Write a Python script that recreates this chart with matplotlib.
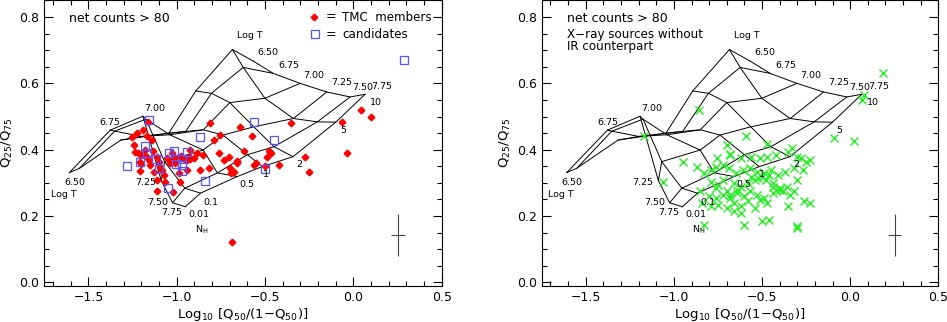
import matplotlib
matplotlib.use("Agg")
import matplotlib.pyplot as plt
import numpy as np

# model grid: rows = NH (1e22 cm^-2), columns = log T
logT = ["6.50", "6.75", "7.00", "7.25", "7.50", "7.75"]
nh = ["0.01", "0.1", "0.5", "1", "2", "5", "10"]
grid_x = [
    [-1.608, -1.377, -1.192, -1.088, -1.024, -0.952],
    [-1.551, -1.352, -1.175, -1.069, -0.955, -0.866],
    [-1.317, -1.200, -1.040, -0.851, -0.770, -0.658],
    [-1.045, -0.950, -0.850, -0.738, -0.600, -0.516],
    [-0.893, -0.804, -0.700, -0.564, -0.450, -0.342],
    [-0.685, -0.624, -0.501, -0.340, -0.204, -0.100],
    [-0.567, -0.454, -0.302, -0.151, -0.019, 0.066],
]
grid_y = [
    [0.331, 0.459, 0.501, 0.307, 0.240, 0.228],
    [0.344, 0.456, 0.492, 0.364, 0.284, 0.269],
    [0.429, 0.440, 0.445, 0.399, 0.330, 0.319],
    [0.450, 0.455, 0.460, 0.444, 0.385, 0.349],
    [0.577, 0.570, 0.542, 0.469, 0.409, 0.379],
    [0.702, 0.648, 0.555, 0.494, 0.484, 0.483],
    [0.667, 0.630, 0.600, 0.574, 0.559, 0.567],
]

# grid labels (text, x, y)
grid_labels = [
    ("Log T", -0.586, 0.743), ("6.50", -0.482, 0.693), ("6.75", -0.365, 0.653),
    ("7.00", -0.223, 0.625), ("7.25", -0.066, 0.603), ("7.50", 0.052, 0.587),
    ("7.75", 0.162, 0.591), ("10", 0.127, 0.541), ("5", -0.059, 0.459),
    ("2", -0.308, 0.354), ("1", -0.498, 0.324), ("0.5", -0.605, 0.296),
    ("0.1", -0.806, 0.242), ("0.01", -0.876, 0.204), ("N$_\\mathregular{H}$", -0.857, 0.158),
    ("7.75", -1.027, 0.212), ("7.50", -1.107, 0.242), ("7.25", -1.175, 0.302),
    ("6.50", -1.576, 0.302), ("Log T", -1.642, 0.266), ("6.75", -1.377, 0.482),
    ("7.00", -1.126, 0.524),
]

# TMC members
mem_x = [-1.163, -1.254, -1.226, -1.192, -1.169, -1.141, -1.245, -1.235, -1.220, -1.207,
         -1.188, -1.169, -1.160, -1.211, -1.201, -1.207, -1.112, -1.103, -1.093, -1.084,
         -1.128, -1.112, -1.112, -1.075, -1.065, -1.023, -1.027, -1.018, -0.999, -1.008,
         -0.989, -0.980, -0.952, -0.933, -0.923, -0.904, -0.885, -0.851, -0.813, -0.791,
         -0.757, -0.762, -0.734, -0.706, -0.696, -0.677, -0.658, -0.643, -0.621, -0.573,
         -0.564, -0.549, -0.488, -0.469, -0.422, -0.352, -0.276, -0.252, -0.062, -0.034,
         0.045, 0.098, -0.685, -0.866, -0.819, -0.942, -0.960, -0.975, -0.945, -0.925,
         -1.040, -1.055, -1.150, -1.135, -0.700, -0.690, -0.660, -0.500, -0.480, -1.180]
mem_y = [0.484, 0.439, 0.449, 0.459, 0.441, 0.429, 0.414, 0.394, 0.389, 0.387,
         0.384, 0.379, 0.369, 0.364, 0.357, 0.337, 0.379, 0.364, 0.349, 0.339,
         0.334, 0.309, 0.276, 0.324, 0.304, 0.271, 0.389, 0.379, 0.374, 0.359,
         0.329, 0.304, 0.374, 0.379, 0.399, 0.374, 0.389, 0.384, 0.479, 0.429,
         0.444, 0.389, 0.369, 0.379, 0.329, 0.334, 0.359, 0.469, 0.397, 0.441,
         0.354, 0.359, 0.379, 0.389, 0.354, 0.479, 0.379, 0.334, 0.484, 0.389,
         0.519, 0.499, 0.123, 0.339, 0.344, 0.339, 0.372, 0.380, 0.368, 0.372,
         0.360, 0.375, 0.355, 0.395, 0.345, 0.335, 0.365, 0.350, 0.395, 0.400]

# candidates
cand_x = [-1.283, -1.160, -1.179, -1.169, -1.207, -1.120, -1.101, -1.050, -1.044, -1.018,
          -1.003, -0.970, -0.970, -0.970, -0.942, -0.866, -0.838, -0.564, -0.450, -0.503, 0.284]
cand_y = [0.352, 0.489, 0.412, 0.389, 0.362, 0.372, 0.341, 0.284, 0.389, 0.397,
          0.357, 0.371, 0.353, 0.337, 0.394, 0.437, 0.306, 0.484, 0.429, 0.341, 0.670]

# X-ray sources without IR counterpart
xr_x = [0.189, 0.076, 0.070, -0.091, 0.023, -0.857, -1.167, -0.590, -0.473, -0.946,
        -0.870, -1.063, -0.700, -0.757, -0.681, -0.680, -0.620, -0.560, -0.510, -0.470,
        -0.420, -0.350, -0.330, -0.300, -0.280, -0.250, -0.230, -0.830, -0.790, -0.760,
        -0.720, -0.690, -0.650, -0.610, -0.570, -0.530, -0.490, -0.450, -0.410, -0.370,
        -0.320, -0.270, -0.790, -0.750, -0.720, -0.660, -0.620, -0.580, -0.540, -0.500,
        -0.460, -0.440, -0.400, -0.360, -0.850, -0.800, -0.760, -0.720, -0.680, -0.640,
        -0.600, -0.570, -0.530, -0.490, -0.440, -0.420, -0.320, -0.300, -0.840, -0.790,
        -0.750, -0.700, -0.660, -0.620, -0.580, -0.540, -0.510, -0.470, -0.350, -0.260,
        -0.230, -0.830, -0.600, -0.500, -0.460, -0.300, -0.300, -0.680, -0.640, -0.560,
        -0.520, -0.480, -0.440, -0.400, -0.380, -0.340, -0.760, -0.700, -0.660, -0.620]
xr_y = [0.632, 0.564, 0.549, 0.434, 0.427, 0.521, 0.442, 0.441, 0.417, 0.362,
        0.349, 0.304, 0.414, 0.374, 0.384, 0.388, 0.374, 0.379, 0.374, 0.379,
        0.384, 0.394, 0.404, 0.379, 0.374, 0.364, 0.369, 0.329, 0.339, 0.349,
        0.354, 0.344, 0.329, 0.339, 0.344, 0.334, 0.329, 0.339, 0.324, 0.334,
        0.344, 0.339, 0.304, 0.294, 0.309, 0.299, 0.289, 0.299, 0.309, 0.319,
        0.324, 0.289, 0.279, 0.289, 0.274, 0.259, 0.254, 0.264, 0.254, 0.269,
        0.259, 0.274, 0.264, 0.254, 0.269, 0.279, 0.274, 0.309, 0.239, 0.229,
        0.234, 0.224, 0.239, 0.229, 0.244, 0.224, 0.249, 0.239, 0.229, 0.244,
        0.239, 0.174, 0.174, 0.184, 0.189, 0.164, 0.169, 0.264, 0.279, 0.319,
        0.314, 0.309, 0.299, 0.284, 0.274, 0.264, 0.284, 0.274, 0.214, 0.209]

err_x, err_y = 0.252, 0.143
err_dx, err_dy = 0.037, 0.062


def draw_grid(ax):
    gx = np.array(grid_x)
    gy = np.array(grid_y)
    for i in range(gx.shape[0]):
        ax.plot(gx[i], gy[i], color="black", lw=0.7)
    for j in range(gx.shape[1]):
        ax.plot(gx[:, j], gy[:, j], color="black", lw=0.7)
    for txt, x, y in grid_labels:
        ax.text(x, y, txt, fontsize=6.8, ha="center", va="center")


def style(ax):
    ax.set_xlim(-1.75, 0.5)
    ax.set_ylim(-0.01, 0.85)
    ax.set_xticks([-1.5, -1.0, -0.5, 0.0, 0.5])
    ax.set_xticks(np.arange(-1.7, 0.51, 0.1), minor=True)
    ax.set_yticks([0.0, 0.2, 0.4, 0.6, 0.8])
    ax.set_yticks(np.arange(0.0, 0.851, 0.05), minor=True)
    ax.tick_params(which="both", direction="in", top=True, right=True, labelsize=9)
    ax.tick_params(which="major", length=6.5, width=0.8)
    ax.tick_params(which="minor", length=3.4, width=0.8)
    ax.set_xlabel(r"Log$_{10}$ [Q$_{50}$/(1$-$Q$_{50}$)]", fontsize=9.5, labelpad=2)
    ax.set_ylabel(r"Q$_{25}$/Q$_{75}$", fontsize=9.5, labelpad=3)
    ax.errorbar([err_x], [err_y], xerr=[err_dx], yerr=[err_dy], color="#444444",
                lw=0.8, capsize=0)
    ax.text(-1.608, 0.795, "net counts > 80", fontsize=9, va="center")


fig = plt.figure(figsize=(9.47, 3.22), dpi=100)
ax1 = fig.add_axes([0.0468, 0.1127, 0.4197, 0.886])
ax2 = fig.add_axes([0.572, 0.1127, 0.4188, 0.886])

for ax in (ax1, ax2):
    draw_grid(ax)
    style(ax)

ax1.plot(mem_x, mem_y, "D", color="red", ms=3.4, mec="red", ls="none")
ax1.plot(cand_x, cand_y, "s", mfc="none", mec="#5555ff", ms=5.5, mew=0.9, ls="none")
ax1.plot([-0.223], [0.80], "D", color="red", ms=3.4)
ax1.text(-0.129, 0.80, "=", fontsize=9, va="center", ha="center")
ax1.text(-0.062, 0.80, "TMC  members", fontsize=8.6, va="center")
ax1.plot([-0.219], [0.748], "s", mfc="none", mec="#5555ff", ms=5.5, mew=0.9)
ax1.text(-0.129, 0.748, "=", fontsize=9, va="center", ha="center")
ax1.text(-0.062, 0.748, "candidates", fontsize=8.6, va="center")

ax2.plot(xr_x, xr_y, "x", color="#22ee22", ms=5.5, mew=1.0, ls="none")
ax2.text(-1.608, 0.748, "X\u2212ray sources without", fontsize=8.6, va="center")
ax2.text(-1.608, 0.710, "IR counterpart", fontsize=8.6, va="center")

fig.savefig("out.png", dpi=100)
